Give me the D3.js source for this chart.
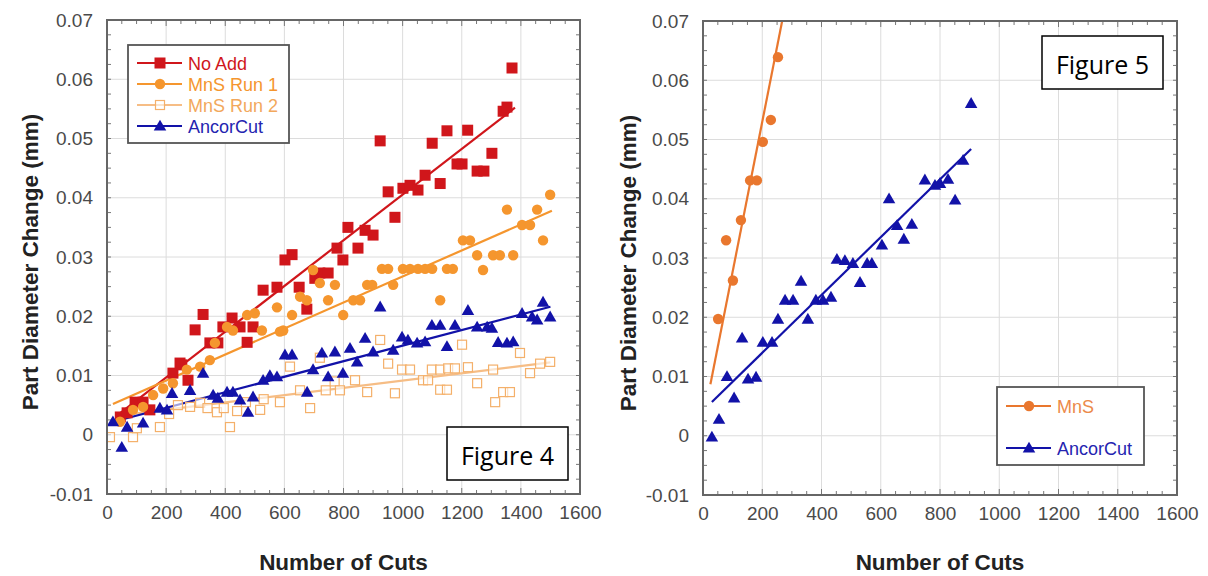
<!DOCTYPE html>
<html>
<head>
<meta charset="utf-8">
<script src="https://cdn.jsdelivr.net/npm/d3@7"></script>
<style>
  body { margin: 0; background: #fff; }
  svg { display: block; }
  .tick text { font-family: "Liberation Sans", Arial, sans-serif; font-size: 19px; fill: #4a4a4a; }
  .title { font-family: "Liberation Sans", Arial, sans-serif; font-size: 22.5px; font-weight: bold; fill: #222; }
  .leg { font-family: "Liberation Sans", Arial, sans-serif; font-size: 18px; }
  .fig { font-family: "Open Sans", "Noto Sans", sans-serif; font-size: 25px; fill: #000; }
</style>
</head>
<body>
<div id="chart"></div>
<script>
// ---- data: Figure 4 ----
const noAddX = [45, 68, 95, 122, 145, 223, 247, 253, 274, 298, 325, 348, 375, 392, 423, 450, 474, 494, 528, 575, 602, 626, 650, 676, 703, 720, 748, 778, 798, 815, 849, 873, 900, 924, 951, 974, 1001, 1025, 1052, 1076, 1100, 1127, 1150, 1184, 1201, 1220, 1252, 1275, 1302, 1340, 1353, 1370];
const noAddY = [0.003, 0.0037, 0.0055, 0.0055, 0.0042, 0.0104, 0.0121, 0.0118, 0.0092, 0.0177, 0.0203, 0.0155, 0.0155, 0.0182, 0.0197, 0.0182, 0.0156, 0.0182, 0.0244, 0.0249, 0.0295, 0.0304, 0.0249, 0.0212, 0.0264, 0.0273, 0.0273, 0.0315, 0.0295, 0.035, 0.0315, 0.0345, 0.0337, 0.0496, 0.041, 0.0367, 0.0416, 0.0421, 0.0413, 0.0438, 0.0492, 0.0424, 0.0513, 0.0457, 0.0457, 0.0514, 0.0445, 0.0445, 0.0475, 0.0546, 0.0553, 0.0619];

const run1X = [44, 88, 122, 156, 190, 223, 270, 315, 348, 365, 406, 426, 474, 500, 524, 575, 585, 596, 626, 653, 676, 697, 720, 748, 771, 799, 833, 856, 880, 897, 930, 951, 968, 1001, 1025, 1052, 1076, 1100, 1127, 1150, 1170, 1204, 1228, 1252, 1272, 1306, 1329, 1353, 1374, 1404, 1431, 1455, 1475, 1499];
const run1Y = [0.0022, 0.0042, 0.0047, 0.0067, 0.0078, 0.0087, 0.011, 0.0115, 0.0126, 0.0155, 0.0182, 0.0176, 0.0202, 0.0205, 0.0176, 0.0215, 0.0174, 0.0176, 0.0202, 0.0233, 0.0227, 0.0278, 0.0256, 0.0227, 0.0253, 0.0202, 0.0227, 0.0227, 0.0253, 0.0253, 0.028, 0.028, 0.0253, 0.028, 0.028, 0.028, 0.028, 0.028, 0.0227, 0.028, 0.028, 0.0328, 0.0328, 0.0303, 0.0278, 0.0303, 0.0303, 0.038, 0.0303, 0.0354, 0.0354, 0.038, 0.0328, 0.0405];

const run2X = [10, 88, 101, 179, 210, 240, 281, 315, 340, 372, 395, 416, 440, 470, 518, 530, 585, 619, 653, 687, 720, 740, 770, 788, 839, 880, 924, 951, 974, 998, 1025, 1069, 1086, 1099, 1127, 1127, 1150, 1154, 1177, 1201, 1221, 1252, 1306, 1313, 1340, 1363, 1397, 1431, 1465, 1499];
const run2Y = [-0.0004, -0.0004, 0.0011, 0.0013, 0.0035, 0.005, 0.0047, 0.0054, 0.0045, 0.0038, 0.0045, 0.0013, 0.004, 0.0055, 0.0042, 0.006, 0.0055, 0.0115, 0.0075, 0.0045, 0.013, 0.0075, 0.009, 0.0075, 0.0092, 0.0072, 0.016, 0.012, 0.007, 0.011, 0.011, 0.0092, 0.0092, 0.011, 0.011, 0.0076, 0.0076, 0.0112, 0.0112, 0.0152, 0.0114, 0.0087, 0.011, 0.0055, 0.0072, 0.0072, 0.0138, 0.0104, 0.012, 0.0123];

const ancor4X = [20, 50, 68, 122, 179, 203, 220, 281, 325, 359, 375, 406, 426, 450, 477, 494, 528, 551, 575, 602, 626, 677, 697, 727, 748, 771, 798, 822, 846, 873, 900, 924, 968, 998, 1018, 1049, 1076, 1099, 1127, 1150, 1177, 1221, 1252, 1286, 1302, 1323, 1353, 1374, 1404, 1438, 1455, 1475, 1499];
const ancor4Y = [0.0022, -0.0021, 0.0013, 0.002, 0.0045, 0.0042, 0.007, 0.0075, 0.0104, 0.0067, 0.0062, 0.0072, 0.0072, 0.0059, 0.0038, 0.0064, 0.0092, 0.01, 0.0098, 0.0135, 0.0135, 0.0072, 0.011, 0.0138, 0.0098, 0.014, 0.0104, 0.0146, 0.0123, 0.0163, 0.014, 0.0216, 0.0143, 0.0165, 0.016, 0.0155, 0.0157, 0.0185, 0.0185, 0.0149, 0.0185, 0.021, 0.0182, 0.0182, 0.018, 0.0156, 0.0155, 0.0157, 0.0205, 0.0199, 0.0194, 0.0224, 0.0199];

// trend lines [x0, y0, x1, y1]
const noAddFit = [40, 0.0035, 1380, 0.0552];
const run1Fit = [20, 0.0052, 1505, 0.0378];
const run2Fit = [30, 0.0032, 1500, 0.0122];
const ancor4Fit = [60, 0.0027, 1500, 0.0216];

// ---- data: Figure 5 ----
const mnsX = [51, 78, 101, 128, 159, 182, 202, 229, 253];
const mnsY = [0.0197, 0.033, 0.0262, 0.0364, 0.0431, 0.0431, 0.0496, 0.0533, 0.0639];
const ancor5X = [30, 54, 81, 105, 132, 152, 179, 202, 233, 253, 277, 304, 331, 354, 381, 405, 432, 452, 479, 506, 530, 554, 570, 604, 628, 655, 678, 705, 749, 783, 800, 827, 851, 878, 905];
const ancor5Y = [-0.0002, 0.0028, 0.01, 0.0064, 0.0165, 0.0096, 0.0099, 0.0158, 0.0158, 0.0197, 0.0229, 0.0229, 0.0261, 0.0197, 0.0229, 0.0229, 0.0234, 0.0298, 0.0296, 0.0291, 0.0259, 0.0291, 0.0291, 0.0322, 0.04, 0.0355, 0.0332, 0.0357, 0.0432, 0.0423, 0.0426, 0.0433, 0.0398, 0.0465, 0.0561];
const mnsFit = [25, 0.0087, 270, 0.0707];
const ancor5Fit = [30, 0.0057, 905, 0.0484];

const xTicks = [0, 200, 400, 600, 800, 1000, 1200, 1400, 1600];
const yTicks = [-0.01, 0, 0.01, 0.02, 0.03, 0.04, 0.05, 0.06, 0.07];

const RED = '#d0161b', ORANGE = '#f5962e', PALE = '#f4b06a', BLUE = '#1212a8', MNS = '#e9772e';

const svg = d3.select('#chart').append('svg').attr('width', 1208).attr('height', 576);

function zip(xs, ys) { return xs.map((x, i) => ({ x, y: ys[i] })); }

function drawMarker(g, type, color, x, y) {
  if (type === 'square') {
    g.append('rect').attr('x', x - 5.5).attr('y', y - 5.5).attr('width', 11).attr('height', 11).attr('fill', color);
  } else if (type === 'circle') {
    g.append('circle').attr('cx', x).attr('cy', y).attr('r', 5.2).attr('fill', color);
  } else if (type === 'hollow') {
    g.append('rect').attr('x', x - 4.5).attr('y', y - 4.5).attr('width', 9).attr('height', 9)
      .attr('fill', '#fff').attr('fill-opacity', 0.6).attr('stroke', color).attr('stroke-width', 1.2);
  } else {
    g.append('path').attr('transform', `translate(${x},${y + 1})`)
      .attr('d', d3.symbol().type(d3.symbolTriangle).size(68)()).attr('fill', color);
  }
}

function panel(opt) {
  const { left, top, width, height } = opt;
  const g = svg.append('g').attr('transform', `translate(${left},${top})`);
  const x = d3.scaleLinear().domain([0, 1600]).range([0, width]);
  const y = d3.scaleLinear().domain([-0.01, 0.07]).range([height, 0]);

  // grid
  g.append('g').selectAll('line').data(xTicks.slice(1, -1)).join('line')
    .attr('x1', d => x(d)).attr('x2', d => x(d)).attr('y1', 0).attr('y2', height)
    .attr('stroke', '#dcdcdc').attr('stroke-width', 1);
  g.append('g').selectAll('line').data(yTicks.slice(1, -1)).join('line')
    .attr('y1', d => y(d)).attr('y2', d => y(d)).attr('x1', 0).attr('x2', width)
    .attr('stroke', '#dcdcdc').attr('stroke-width', 1);

  // minor ticks on all four sides
  const xMinor = d3.range(0, 1601, 50), yMinor = d3.range(-0.01, 0.0701, 0.0025);
  const tk = g.append('g').attr('stroke', '#777').attr('stroke-width', 1);
  xMinor.forEach(v => {
    const len = v % 200 === 0 ? 6 : 4;
    tk.append('line').attr('x1', x(v)).attr('x2', x(v)).attr('y1', height).attr('y2', height - len);
    tk.append('line').attr('x1', x(v)).attr('x2', x(v)).attr('y1', 0).attr('y2', len);
  });
  yMinor.forEach(v => {
    tk.append('line').attr('y1', y(v)).attr('y2', y(v)).attr('x1', 0).attr('x2', 4);
    tk.append('line').attr('y1', y(v)).attr('y2', y(v)).attr('x1', width).attr('x2', width - 4);
  });

  // axes labels
  const xa = g.append('g').attr('transform', `translate(0,${height})`)
    .call(d3.axisBottom(x).tickValues(xTicks).tickSize(0).tickPadding(12).tickFormat(d3.format('d')));
  xa.select('.domain').remove();
  const ya = g.append('g')
    .call(d3.axisLeft(y).tickValues(yTicks).tickSize(0).tickPadding(14)
      .tickFormat(d => Math.abs(d) < 1e-9 ? '0' : d.toFixed(2)));
  ya.select('.domain').remove();

  g.append('text').attr('class', 'title').attr('text-anchor', 'middle')
    .attr('x', width / 2).attr('y', opt.xTitleY).text('Number of Cuts');
  g.append('text').attr('class', 'title').attr('text-anchor', 'middle')
    .attr('transform', `translate(${opt.yTitleX},${height / 2 + 5}) rotate(-90)`)
    .text('Part Diameter Change (mm)');

  // plot area with clip
  const clipId = 'clip' + left;
  g.append('clipPath').attr('id', clipId).append('rect').attr('width', width).attr('height', height);
  const plot = g.append('g').attr('clip-path', `url(#${clipId})`);

  opt.series.forEach(s => {
    const f = s.fit;
    plot.append('line').attr('x1', x(f[0])).attr('y1', y(f[1])).attr('x2', x(f[2])).attr('y2', y(f[3]))
      .attr('stroke', s.lineColor || s.color).attr('stroke-width', 2.2);
  });
  opt.series.forEach(s => {
    const pg = plot.append('g');
    zip(s.xs, s.ys).forEach(p => drawMarker(pg, s.marker, s.color, x(p.x), y(p.y)));
  });

  // frame
  g.append('rect').attr('width', width).attr('height', height).attr('fill', 'none')
    .attr('stroke', '#666').attr('stroke-width', 2);

  // legend
  const L = opt.legend;
  const lg = g.append('g').attr('transform', `translate(${L.x},${L.y})`);
  lg.append('rect').attr('width', L.w).attr('height', L.h).attr('fill', '#fff')
    .attr('stroke', '#555').attr('stroke-width', 1.8);
  opt.series.forEach((s, i) => {
    const yy = L.first + i * L.step;
    lg.append('line').attr('x1', 9).attr('x2', 54).attr('y1', yy).attr('y2', yy)
      .attr('stroke', s.lineColor || s.color).attr('stroke-width', 2);
    drawMarker(lg, s.marker, s.color, 32, yy);
    lg.append('text').attr('class', 'leg').attr('x', 60).attr('y', yy + 6.5)
      .attr('fill', s.textColor || s.color).text(s.name);
  });

  // figure label
  const F = opt.figBox;
  const fg = g.append('g').attr('transform', `translate(${F.x},${F.y})`);
  fg.append('rect').attr('width', F.w).attr('height', F.h).attr('fill', '#fff')
    .attr('stroke', '#000').attr('stroke-width', 1.5);
  fg.append('text').attr('class', 'fig').attr('text-anchor', 'middle')
    .attr('x', F.w / 2).attr('y', F.h / 2 + 11).text(F.text);
}

panel({
  left: 107, top: 20, width: 473, height: 474, yTitleX: -69, xTitleY: 550,
  series: [
    { name: 'No Add', xs: noAddX, ys: noAddY, fit: noAddFit, color: RED, marker: 'square' },
    { name: 'MnS Run 1', xs: run1X, ys: run1Y, fit: run1Fit, color: ORANGE, marker: 'circle' },
    { name: 'MnS Run 2', xs: run2X, ys: run2Y, fit: run2Fit, color: PALE, lineColor: '#f6bd85', marker: 'hollow', textColor: '#f2a85c' },
    { name: 'AncorCut', xs: ancor4X, ys: ancor4Y, fit: ancor4Fit, color: BLUE, marker: 'triangle', textColor: '#2424b0' }
  ],
  legend: { x: 21, y: 25, w: 161, h: 98, first: 18, step: 21 },
  figBox: { x: 340, y: 407, w: 121, h: 53, text: 'Figure 4' }
});

panel({
  left: 703, top: 21, width: 474, height: 474, yTitleX: -67, xTitleY: 549,
  series: [
    { name: 'MnS', xs: mnsX, ys: mnsY, fit: mnsFit, color: MNS, marker: 'circle', textColor: '#ec8a4a' },
    { name: 'AncorCut', xs: ancor5X, ys: ancor5Y, fit: ancor5Fit, color: BLUE, marker: 'triangle', textColor: '#2424b0' }
  ],
  legend: { x: 294, y: 366, w: 147, h: 78, first: 19, step: 42 },
  figBox: { x: 339, y: 15, w: 121, h: 53, text: 'Figure 5' }
});
</script>
</body>
</html>
